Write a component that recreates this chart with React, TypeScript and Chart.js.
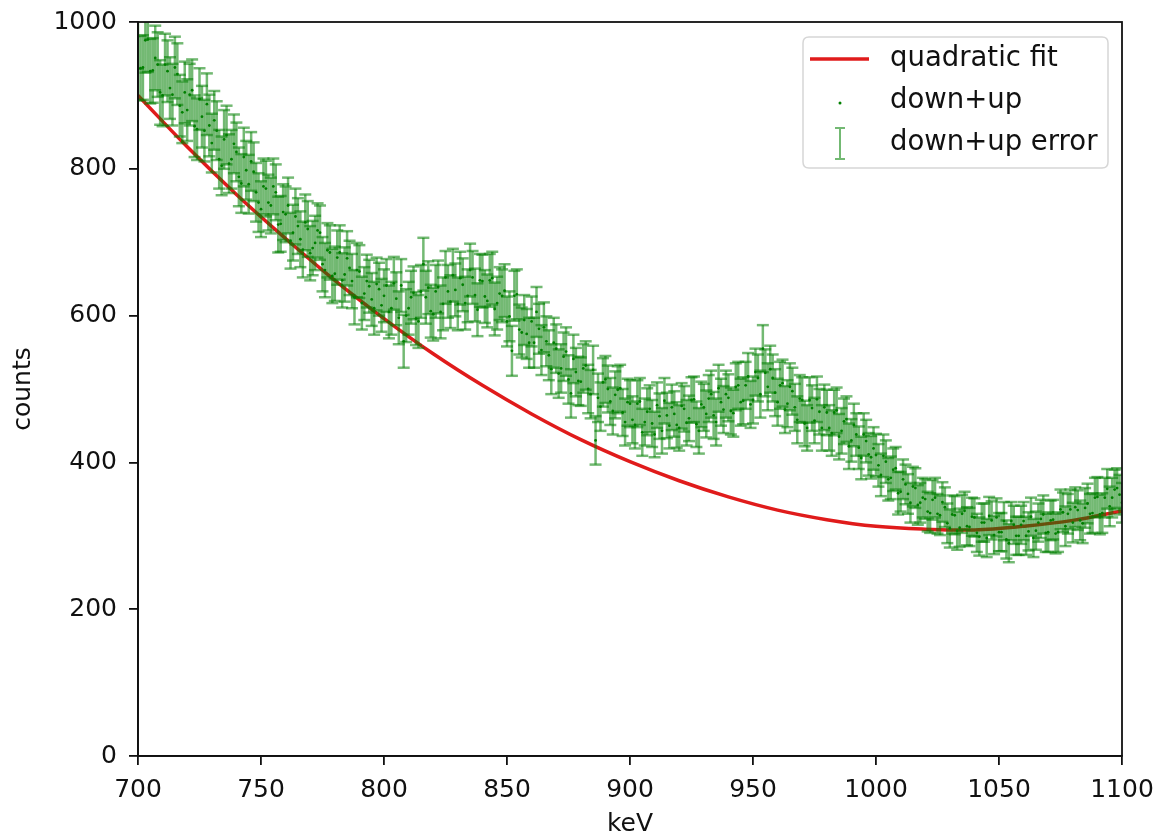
import React, { useEffect, useRef } from 'react';
import { Chart, registerables } from 'chart.js';

Chart.register(...registerables);

// ---- data (1 keV bins, split into even / odd keV) ----
const evenStartKeV = 700; // 700, 702, ... 1100
const oddStartKeV = 701; // 701, 703, ... 1099
const binStep = 2;
const countsEvenKeV = [
  980, 938, 976, 934, 942, 900, 933, 901, 929, 877,
  880, 907, 854, 871, 888, 835, 852, 804, 846, 813,
  823, 780, 798, 810, 768, 745, 773, 750, 768, 725,
  738, 702, 735, 704, 727, 685, 699, 713, 662, 686,
  657, 686, 656, 665, 625, 660, 630, 640, 610, 636,
  627, 605, 644, 597, 565, 610, 631, 592, 670, 638,
  602, 639, 616, 633, 655, 616, 642, 627, 652, 608,
  647, 620, 651, 617, 627, 592, 552, 629, 577, 575,
  592, 605, 553, 565, 527, 555, 528, 551, 494, 523,
  510, 532, 493, 430, 476, 513, 483, 492, 501, 455,
  480, 451, 483, 455, 473, 438, 463, 484, 450, 466,
  447, 473, 460, 486, 443, 475, 487, 464, 501, 472,
  488, 467, 505, 484, 517, 485, 515, 555, 503, 515,
  482, 508, 480, 497, 458, 485, 447, 474, 486, 447,
  468, 440, 471, 443, 459, 430, 438, 406, 429, 407,
  410, 383, 401, 379, 392, 360, 370, 345, 365, 345,
  350, 331, 352, 328, 339, 310, 328, 311, 334, 312,
  325, 299, 318, 327, 301, 305, 320, 290, 315, 300,
  320, 306, 297, 318, 329, 305, 322, 305, 332, 330,
  318, 335, 317, 344, 331, 353, 331, 364, 352, 365,
  345,
];
const countsOddKeV = [
  937, 975, 933, 951, 904, 942, 910, 938, 886, 904,
  901, 858, 895, 852, 859, 866, 813, 840, 807, 834,
  789, 816, 779, 796, 754, 776, 754, 776, 724, 741,
  750, 713, 722, 690, 718, 692, 716, 670, 689, 654,
  679, 648, 678, 647, 662, 617, 647, 622, 643, 614,
  641, 610, 623, 641, 600, 625, 596, 633, 625, 606,
  633, 605, 652, 619, 635, 651, 617, 662, 628, 648,
  626, 648, 609, 630, 634, 599, 627, 581, 594, 563,
  563, 582, 584, 546, 563, 521, 544, 513, 541, 511,
  528, 500, 526, 488, 509, 500, 470, 499, 468, 482,
  458, 480, 441, 469, 453, 478, 443, 464, 475, 451,
  477, 454, 485, 452, 479, 466, 493, 455, 482, 493,
  470, 503, 482, 505, 479, 523, 493, 522, 527, 495,
  505, 472, 503, 475, 487, 453, 485, 457, 469, 475,
  447, 468, 435, 456, 422, 451, 420, 438, 411, 419,
  396, 409, 377, 390, 358, 377, 357, 367, 342, 352,
  333, 349, 330, 346, 317, 329, 307, 330, 313, 326,
  304, 318, 297, 321, 325, 305, 295, 320, 300, 315,
  300, 326, 307, 323, 304, 321, 303, 336, 313, 336,
  339, 321, 338, 330, 352, 329, 352, 340, 363, 356,
];
// error half-length read per 20 keV region (700, 720, ... 1100)
const errorRegionStart = 700;
const errorRegionWidth = 20;
const errorByRegion = [44, 42, 40, 38, 37, 36, 36, 36, 34, 33, 32, 31, 32, 32, 31, 29, 27, 26, 26, 27, 27];

const fitKeV = [700, 720, 740, 760, 780, 800, 820, 840, 860, 880, 900, 920, 940, 960, 980, 1000, 1020, 1040, 1060, 1080, 1100];
const fitCounts = [900, 830, 765, 705, 648, 596, 548, 505, 466, 431, 401, 375, 353, 335, 322, 313, 309, 308, 313, 321, 334];
const xTickValues = [700, 750, 800, 850, 900, 950, 1000, 1050, 1100];
const yTickValues = [0, 200, 400, 600, 800, 1000];
const legendLabels = ['quadratic fit', 'down+up', 'down+up error'];

const FONT = "'DejaVu Sans', sans-serif";
const TXT = '#111';
const RED = '#e01b1b';
const ERR = 'rgba(0,128,0,0.55)';

export default function App() {
  const ref = useRef<HTMLCanvasElement>(null);

  useEffect(() => {
    document.body.style.margin = '0';
    const points: { x: number; y: number }[] = [];
    countsEvenKeV.forEach((c, i) => points.push({ x: evenStartKeV + i * binStep, y: c }));
    countsOddKeV.forEach((c, i) => points.push({ x: oddStartKeV + i * binStep, y: c }));
    points.sort((a, b) => a.x - b.x);
    const errFor = (x: number) => errorByRegion[Math.min(errorByRegion.length - 1, Math.round((x - errorRegionStart) / errorRegionWidth))];

    const errorPlugin = {
      id: 'errorBarsAndFrame',
      afterDatasetsDraw(chart: any) {
        const { ctx, chartArea, scales } = chart;
        const xs = scales.x;
        const ys = scales.y;
        ctx.save();
        ctx.beginPath();
        ctx.rect(chartArea.left, chartArea.top, chartArea.right - chartArea.left, chartArea.bottom - chartArea.top);
        ctx.clip();
        ctx.strokeStyle = ERR;
        ctx.lineWidth = 2.5;
        const cap = 6;
        for (const p of points) {
          const e = errFor(p.x);
          const px = xs.getPixelForValue(p.x);
          const y1 = ys.getPixelForValue(p.y - e);
          const y2 = ys.getPixelForValue(p.y + e);
          ctx.beginPath();
          ctx.moveTo(px, y1);
          ctx.lineTo(px, y2);
          ctx.stroke();
          ctx.beginPath();
          ctx.moveTo(px - cap, y1);
          ctx.lineTo(px + cap, y1);
          ctx.stroke();
          ctx.beginPath();
          ctx.moveTo(px - cap, y2);
          ctx.lineTo(px + cap, y2);
          ctx.stroke();
        }
        ctx.restore();
        ctx.save();
        ctx.strokeStyle = TXT;
        ctx.lineWidth = 1.8;
        ctx.strokeRect(chartArea.left, chartArea.top, chartArea.right - chartArea.left, chartArea.bottom - chartArea.top);
        ctx.restore();
      },
      afterDraw(chart: any) {
        const { ctx, chartArea } = chart;
        const w = 305;
        const h = 131;
        const left = chartArea.right - 14 - w;
        const top = chartArea.top + 15;
        ctx.save();
        ctx.beginPath();
        const r = 6;
        ctx.moveTo(left + r, top);
        ctx.lineTo(left + w - r, top);
        ctx.quadraticCurveTo(left + w, top, left + w, top + r);
        ctx.lineTo(left + w, top + h - r);
        ctx.quadraticCurveTo(left + w, top + h, left + w - r, top + h);
        ctx.lineTo(left + r, top + h);
        ctx.quadraticCurveTo(left, top + h, left, top + h - r);
        ctx.lineTo(left, top + r);
        ctx.quadraticCurveTo(left, top, left + r, top);
        ctx.closePath();
        ctx.fillStyle = 'rgba(255,255,255,0.8)';
        ctx.fill();
        ctx.strokeStyle = '#d6d6d6';
        ctx.lineWidth = 1.5;
        ctx.stroke();

        const rows = [top + 22, top + 64, top + 106];
        ctx.strokeStyle = RED;
        ctx.lineWidth = 3.5;
        ctx.beginPath();
        ctx.moveTo(left + 7, rows[0]);
        ctx.lineTo(left + 66, rows[0]);
        ctx.stroke();
        ctx.fillStyle = 'green';
        ctx.beginPath();
        ctx.arc(left + 37, rows[1] + 2, 1.5, 0, Math.PI * 2);
        ctx.fill();
        ctx.strokeStyle = ERR;
        ctx.lineWidth = 2;
        const ex = left + 37;
        const e1 = rows[2] - 15;
        const e2 = rows[2] + 16;
        ctx.beginPath();
        ctx.moveTo(ex, e1); ctx.lineTo(ex, e2);
        ctx.moveTo(ex - 5, e1); ctx.lineTo(ex + 5, e1);
        ctx.moveTo(ex - 5, e2); ctx.lineTo(ex + 5, e2);
        ctx.stroke();

        ctx.fillStyle = TXT;
        ctx.font = `27.5px ${FONT}`;
        ctx.textBaseline = 'middle';
        ctx.textAlign = 'left';
        legendLabels.forEach((t, i) => ctx.fillText(t, left + 87, rows[i]));
        ctx.restore();
      },
    };

    const chart = new Chart(ref.current!, {
      type: 'scatter',
      data: {
        datasets: [
          {
            label: legendLabels[0],
            data: fitKeV.map((x, i) => ({ x, y: fitCounts[i] })),
            showLine: true,
            borderColor: RED,
            borderWidth: 3.5,
            pointRadius: 0,
            tension: 0.4,
            order: 2,
          },
          {
            label: legendLabels[1],
            data: points,
            backgroundColor: 'green',
            borderColor: 'green',
            pointRadius: 1.4,
            borderWidth: 0,
            order: 1,
          },
        ],
      },
      options: {
        animation: false,
        responsive: false,
        layout: { padding: { left: 0, top: 22, right: 37, bottom: 0 } },
        plugins: { legend: { display: false }, tooltip: { enabled: false } },
        scales: {
          x: {
            type: 'linear',
            min: 700,
            max: 1100,
            afterBuildTicks: (s: any) => { s.ticks = xTickValues.map((v) => ({ value: v })); },
            ticks: { color: TXT, font: { family: FONT, size: 25 }, padding: 10, maxRotation: 0, callback: (v: any) => String(v) },
            grid: { drawOnChartArea: false, tickLength: 9, color: TXT, lineWidth: 1.8 },
            border: { color: TXT, width: 1.8 },
            title: { display: true, text: 'keV', color: TXT, font: { family: FONT, size: 25 }, padding: { top: 0, bottom: -2 } },
            afterFit: (s: any) => { s.height = 81; s.paddingLeft = 0; s.paddingRight = 0; },
          },
          y: {
            type: 'linear',
            min: 0,
            max: 1000,
            afterBuildTicks: (s: any) => { s.ticks = yTickValues.map((v) => ({ value: v })); },
            ticks: { color: TXT, font: { family: FONT, size: 25 }, padding: 12, callback: (v: any) => String(v) },
            grid: { drawOnChartArea: false, tickLength: 9, color: TXT, lineWidth: 1.8 },
            border: { color: TXT, width: 1.8 },
            title: { display: true, text: 'counts', color: TXT, font: { family: FONT, size: 25 }, padding: { top: 8, bottom: 0 } },
            afterFit: (s: any) => { s.width = 138; s.paddingTop = 0; s.paddingBottom = 0; },
          },
        },
      },
      plugins: [errorPlugin],
    });
    return () => chart.destroy();
  }, []);

  return (
    <div style={{ position: 'absolute', left: 0, top: 0, width: 1159, height: 837, background: '#fff' }}>
      <canvas ref={ref} width={1159} height={837} style={{ display: 'block', width: 1159, height: 837 }} />
    </div>
  );
}
